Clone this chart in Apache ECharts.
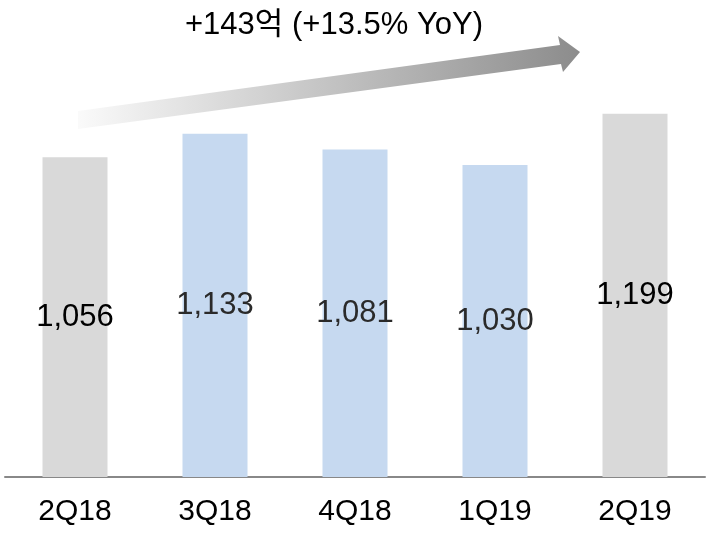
<!DOCTYPE html>
<html>
<head>
<meta charset="utf-8">
<script src="https://cdn.jsdelivr.net/npm/echarts@6/dist/echarts.min.js"></script>
<style>
  html, body { margin: 0; padding: 0; background: #fff; }
  #chart { width: 708px; height: 534px; }
</style>
</head>
<body>
<div id="chart"></div>
<script>
const categories = ['2Q18', '3Q18', '4Q18', '1Q19', '2Q19']
const values = [1056, 1133, 1081, 1030, 1199]
const highlight = [true, false, false, false, true] // gray = compared quarters
const headline = '+143억 (+13.5% YoY)'

const FONT = '"Liberation Sans", "Noto Sans CJK KR", sans-serif'
const chart = echarts.init(document.getElementById('chart'))

const option = {
  animation: false,
  grid: { left: 5, right: 3, top: 53, bottom: 57 },
  xAxis: {
    type: 'category',
    data: categories,
    axisTick: { show: false },
    axisLine: { lineStyle: { color: '#888', width: 2 } },
    axisLabel: { color: '#000', fontSize: 30, fontFamily: FONT, margin: 20 }
  },
  yAxis: {
    type: 'value',
    min: 0,
    max: 1400,
    show: false
  },
  series: [
    {
      type: 'bar',
      barWidth: 65,
      data: values.map((v, i) => ({
        value: v,
        itemStyle: { color: highlight[i] ? '#d9d9d9' : '#c6d9f0' },
        label: { color: highlight[i] ? '#000' : '#2a2a2a' }
      })),
      label: {
        show: true,
        position: 'inside',
        fontSize: 31,
        fontFamily: FONT,
        formatter: p => p.value.toLocaleString('en-US')
      }
    }
  ],
  graphic: [
    {
      type: 'polygon',
      shape: {
        points: [
          [78, 111], [560, 45], [558, 36], [580, 52],
          [563, 72], [561, 64], [78, 129]
        ]
      },
      style: {
        fill: new echarts.graphic.LinearGradient(0, 0, 1, 0, [
          { offset: 0, color: 'rgba(250, 250, 250, 1)' },
          { offset: 1, color: '#8c8c8c' }
        ])
      }
    },
    {
      type: 'text',
      x: 334,
      y: 25,
      style: {
        text: headline,
        fontSize: 31,
        fontFamily: FONT,
        fill: '#000',
        align: 'center',
        verticalAlign: 'middle'
      }
    }
  ]
}

chart.setOption(option)
</script>
</body>
</html>
